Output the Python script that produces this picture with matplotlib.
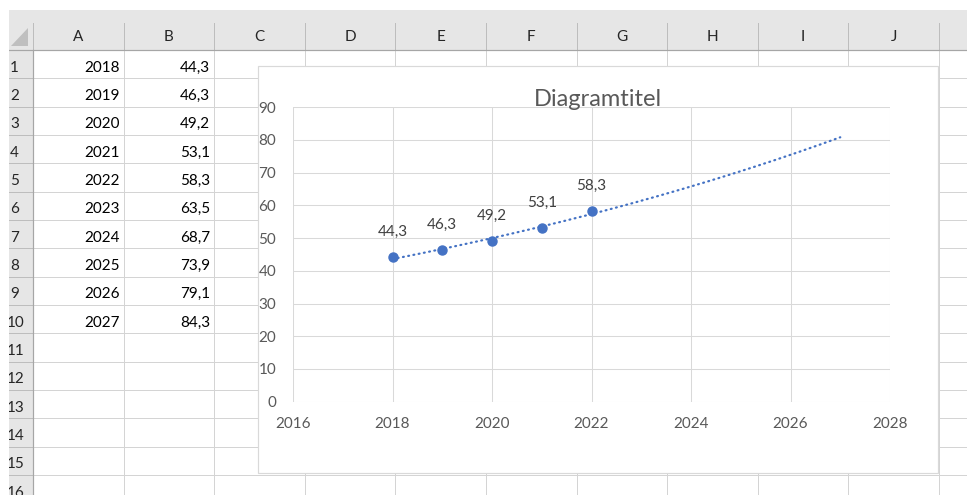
import matplotlib
matplotlib.use("Agg")
import matplotlib.pyplot as plt
import numpy as np
from matplotlib.patches import Rectangle, Polygon

plt.rcParams["font.family"] = ["Lato", "DejaVu Sans"]

# worksheet contents, A1:B10
years = [2018, 2019, 2020, 2021, 2022, 2023, 2024, 2025, 2026, 2027]
values = [44.3, 46.3, 49.2, 53.1, 58.3, 63.5, 68.7, 73.9, 79.1, 84.3]
col_letters = ["A", "B", "C", "D", "E", "F", "G", "H", "I", "J"]
row_numbers = list(range(1, 17))

# the chart only uses the first five rows, plus an exponential trendline forecast 5 periods ahead
chart_x = years[:5]
chart_y = values[:5]
forecast_periods = 5
chart_title = "Diagramtitel"
x_ticks = [2016, 2018, 2020, 2022, 2024, 2026, 2028]
y_ticks = [0, 10, 20, 30, 40, 50, 60, 70, 80, 90]

W, H = 967, 495
BLUE = "#4472C4"
CELL_GRID = "#D4D4D4"
HEAD_BG = "#E6E6E6"
HEAD_SEP = "#BDBDBD"
HEAD_LINE = "#A6A6A6"


def comma(v):
    return f"{v:.1f}".replace(".", ",")


fig = plt.figure(figsize=(W / 100, H / 100), dpi=100)
bg = fig.add_axes([0, 0, 1, 1])
bg.set_xlim(0, W)
bg.set_ylim(H, 0)
bg.axis("off")

# sheet geometry in pixels
top, head_bot = 10, 50
left, rh_right = 9, 33
col_w, row_h = 90.6, 28.33
col_edges = rh_right + col_w * np.arange(len(col_letters) + 2)
row_edges = head_bot + row_h * np.arange(len(row_numbers) + 1)
px = 0.72  # one pixel in points

bg.add_patch(Rectangle((left, top), W - left, head_bot - top, fc=HEAD_BG, ec="none", zorder=1))
bg.add_patch(Rectangle((left, head_bot), rh_right - left, H - head_bot, fc=HEAD_BG, ec="none", zorder=1))
bg.add_patch(Polygon([[27.5, 28], [27.5, 45.5], [10.5, 45.5]], closed=True, fc="#BFBFBF", ec="none", zorder=2))

for x in col_edges[1:]:
    bg.plot([x, x], [head_bot, H], color=CELL_GRID, lw=px, zorder=2)
    bg.plot([x, x], [23, head_bot], color=HEAD_SEP, lw=px, zorder=2)
bg.plot([rh_right, rh_right], [23, head_bot], color=HEAD_SEP, lw=px, zorder=2)
for y in row_edges[1:]:
    bg.plot([rh_right, W], [y, y], color=CELL_GRID, lw=px, zorder=2)
    bg.plot([left, rh_right], [y, y], color=HEAD_SEP, lw=px, zorder=2)
bg.plot([left, W], [head_bot, head_bot], color=HEAD_LINE, lw=1.2 * px, zorder=3)
bg.plot([rh_right, rh_right], [head_bot, H], color=HEAD_LINE, lw=1.2 * px, zorder=3)

for i, letter in enumerate(col_letters):
    cx = (col_edges[i] + col_edges[i + 1]) / 2
    bg.text(cx, 37, letter, ha="center", va="center", fontsize=11, color="#262626", zorder=4)

for i, n in enumerate(row_numbers):
    cy = (row_edges[i] + row_edges[i + 1]) / 2 + 3.5
    x0 = 10 if n < 10 else 7
    bg.text(x0, cy, str(n), ha="left", va="center", fontsize=11, color="#262626", zorder=4)

for i, (yr, v) in enumerate(zip(years, values)):
    cy = (row_edges[i] + row_edges[i + 1]) / 2 + 3.5
    bg.text(col_edges[1] - 4, cy, str(yr), ha="right", va="center", fontsize=11, color="black", zorder=4)
    bg.text(col_edges[2] - 4, cy, comma(v), ha="right", va="center", fontsize=11, color="black", zorder=4)

# white margin that clips the left of the row numbers
bg.add_patch(Rectangle((0, 0), left, H, fc="white", ec="none", zorder=6))
bg.add_patch(Rectangle((0, 0), W, top, fc="white", ec="none", zorder=6))

# chart area
bg.add_patch(Rectangle((258, 66), 938 - 258, 473 - 66, fc="white", ec="#D9D9D9", lw=1.2 * px, zorder=7))
fig.text(598 / W, 1 - 105.5 / H, chart_title, ha="center", va="baseline", fontsize=17, color="#595959")

pl, pr, pt, pb = 293, 890, 107.3, 401.6
ax = fig.add_axes([pl / W, 1 - pb / H, (pr - pl) / W, (pb - pt) / H])
ax.set_facecolor("none")
ax.set_xlim(x_ticks[0], x_ticks[-1])
ax.set_ylim(y_ticks[0], y_ticks[-1])
ax.set_xticks(x_ticks)
ax.set_yticks(y_ticks)
ax.grid(True, color="#D9D9D9", lw=0.75)
ax.set_axisbelow(True)
for s in ax.spines.values():
    s.set_visible(False)
ax.tick_params(length=0, labelsize=11, labelcolor="#595959")
ax.tick_params(axis="y", pad=12)
ax.tick_params(axis="x", pad=11)

# exponential trendline as Excel fits it: ln(y) linear in x
b, a = np.polyfit(chart_x, np.log(chart_y), 1)
tx = np.linspace(chart_x[0], chart_x[-1] + forecast_periods, 200)
ax.plot(tx, np.exp(a + b * tx), color=BLUE, lw=1.6, linestyle=(0, (0.4, 2.0)),
        dash_capstyle="round", zorder=3)

ax.plot(chart_x, chart_y, "o", color=BLUE, markersize=6.5, zorder=4, clip_on=False)
for x, y in zip(chart_x, chart_y):
    ax.annotate(comma(y), (x, y), xytext=(0, 18), textcoords="offset points",
                ha="center", va="center", fontsize=11, color="#404040")

fig.savefig("out.png", dpi=100)
